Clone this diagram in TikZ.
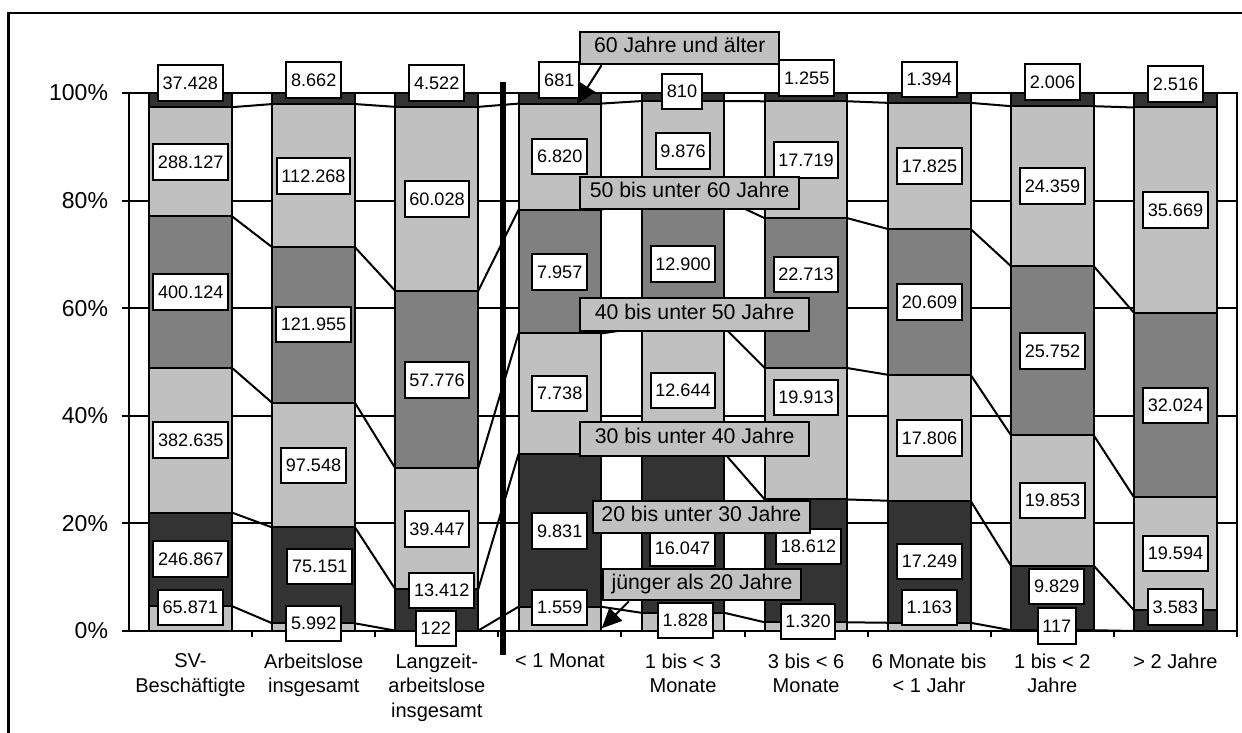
\documentclass[tikz,border=0pt]{standalone}
\usepackage{fontspec}
\setmainfont{Liberation Sans}
\usetikzlibrary{arrows.meta, calc}
\definecolor{lightbar}{HTML}{C0C0C0}
\definecolor{midbar}{HTML}{808080}
\definecolor{darkbar}{HTML}{333333}
\tikzset{
  vlabel/.style={rectangle, draw, fill=white, inner xsep=0.095cm, inner ysep=0pt,
    minimum height=0.71cm, font=\fontsize{10.3}{12}\selectfont},
  agelabel/.style={rectangle, draw, fill=lightbar, inner sep=0pt, minimum height=0.64cm,
    text height=0.73em, text depth=0.21em, font=\fontsize{12.1}{14}\selectfont},
  catlabel/.style={anchor=north, align=center, inner sep=0pt, font=\fontsize{11.4}{14.2}\selectfont},
  pctlabel/.style={anchor=east, inner sep=0pt, font=\fontsize{13.1}{15}\selectfont},
  pointer/.style={-{Triangle[length=0.4cm, width=0.36cm]}}
}
\begin{document}
\begin{tikzpicture}[x=0.02cm, y=-0.02cm, line width=0.04cm]
		\useasboundingbox (0,0) rectangle (1242,733);
		\clip (0,0) rectangle (1242,733);
		\draw[line width=0.05cm] (8.7,12.8) rectangle (1300,800);
		% gridlines
		\foreach \p in {20,40,60,80}
			\draw (129,{631-5.38*\p}) -- (1237,{631-5.38*\p});
		% stacked bars, cumulative percent per category
		\foreach \i/\a/\b/\c/\d/\e in {1/4.635/22.008/48.934/77.091/97.366,
				2/1.421/19.248/42.386/71.315/97.945, 3/0.070/7.720/30.222/63.179/97.421,
				4/4.508/32.932/55.306/78.312/98.031, 5/3.379/33.038/56.407/80.250/98.503,
				6/1.619/24.447/48.870/76.728/98.461, 7/1.529/24.212/47.626/74.727/98.167,
				8/0.143/12.142/36.377/67.815/97.551, 9/0/3.837/24.819/59.111/97.306} {
			\pgfmathsetmacro\xl{129+(\i-0.5)*123.11-41.35}
			\pgfmathsetmacro\xr{\xl+82.7}
			\filldraw[fill=lightbar] (\xl,631) rectangle (\xr,{631-5.38*\a});
			\filldraw[fill=darkbar] (\xl,{631-5.38*\a}) rectangle (\xr,{631-5.38*\b});
			\filldraw[fill=lightbar] (\xl,{631-5.38*\b}) rectangle (\xr,{631-5.38*\c});
			\filldraw[fill=midbar] (\xl,{631-5.38*\c}) rectangle (\xr,{631-5.38*\d});
			\filldraw[fill=lightbar] (\xl,{631-5.38*\d}) rectangle (\xr,{631-5.38*\e});
			\filldraw[fill=darkbar] (\xl,{631-5.38*\e}) rectangle (\xr,93);
			\foreach \j/\p in {1/\a,2/\b,3/\c,4/\d,5/\e} {
				\coordinate (b\i-l\j) at (\xl,{631-5.38*\p});
				\coordinate (b\i-r\j) at (\xr,{631-5.38*\p});
			}
		}
		% series lines
		\foreach \i in {1,...,8} {
			\pgfmathtruncatemacro\k{\i+1}
			\foreach \j in {1,...,5}
				\draw (b\i-r\j) -- (b\k-l\j);
		}
		% axes
		\draw (129,93) -- (1237,93) -- (1237,631);
		\draw (129,93) -- (129,631) -- (1237,631);
		\foreach \p in {0,20,...,100} {
			\draw (121.7,{631-5.38*\p}) -- (129,{631-5.38*\p});
			\node at (109,{631-5.38*\p}) [pctlabel] (pct\p) {\p\%};
		}
		\foreach \k in {1,...,9}
			\draw ({129+123.11*\k},631) -- ({129+123.11*\k},637);
		\draw[line width=0.12cm] (502.5,82.3) -- (502.5,655);
		% value labels
		\node at (190.3,83) [vlabel] (c1s6) {37.428};
		\node at (190.7,162) [vlabel] (c1s5) {288.127};
		\node at (190.8,292) [vlabel] (c1s4) {400.124};
		\node at (190.8,439.8) [vlabel] (c1s3) {382.635};
		\node at (190.8,559.2) [vlabel] (c1s2) {246.867};
		\node at (190.3,607.5) [vlabel] (c1s1) {65.871};
		\node at (313.7,80) [vlabel] (c2s6) {8.662};
		\node at (313.5,175.8) [vlabel] (c2s5) {112.268};
		\node at (313.5,324.7) [vlabel] (c2s4) {121.955};
		\node at (313.5,465.5) [vlabel] (c2s3) {97.548};
		\node at (319.8,566.7) [vlabel] (c2s2) {75.151};
		\node at (313.7,623.5) [vlabel] (c2s1) {5.992};
		\node at (436.7,82.8) [vlabel] (c3s6) {4.522};
		\node at (437,199) [vlabel] (c3s5) {60.028};
		\node at (437,380) [vlabel] (c3s4) {57.776};
		\node at (437,529) [vlabel] (c3s3) {39.447};
		\node at (441.7,590.5) [vlabel] (c3s2) {13.412};
		\node at (435.8,628.3) [vlabel] (c3s1) {122};
		\node at (559.3,80) [vlabel] (c4s6) {681};
		\node at (559.7,156.7) [vlabel] (c4s5) {6.820};
		\node at (559.7,271.8) [vlabel] (c4s4) {7.957};
		\node at (559.7,393.5) [vlabel] (c4s3) {7.738};
		\node at (559.7,530.8) [vlabel] (c4s2) {9.831};
		\node at (559.7,607.5) [vlabel] (c4s1) {1.559};
		\node at (682,91.7) [vlabel] (c5s6) {810};
		\node at (683,150.8) [vlabel] (c5s5) {9.876};
		\node at (683,263.8) [vlabel] (c5s4) {12.900};
		\node at (683,390.5) [vlabel] (c5s3) {12.644};
		\node at (682.5,548.6) [vlabel] (c5s2) {16.047};
		\node at (685.3,620.3) [vlabel] (c5s1) {1.828};
		\node at (806.7,78) [vlabel] (c6s6) {1.255};
		\node at (806,160) [vlabel] (c6s5) {17.719};
		\node at (806,274.7) [vlabel] (c6s4) {22.713};
		\node at (806,397.5) [vlabel] (c6s3) {19.913};
		\node at (808.5,546.3) [vlabel] (c6s2) {18.612};
		\node at (808,621.7) [vlabel] (c6s1) {1.320};
		\node at (929.2,79.3) [vlabel] (c7s6) {1.394};
		\node at (929.5,165.8) [vlabel] (c7s5) {17.825};
		\node at (929.5,301.8) [vlabel] (c7s4) {20.609};
		\node at (929.5,437.8) [vlabel] (c7s3) {17.806};
		\node at (929.5,561.7) [vlabel] (c7s2) {17.249};
		\node at (929.2,607.5) [vlabel] (c7s1) {1.163};
		\node at (1052.5,81.8) [vlabel] (c8s6) {2.006};
		\node at (1052.5,186.2) [vlabel] (c8s5) {24.359};
		\node at (1052.5,350.8) [vlabel] (c8s4) {25.752};
		\node at (1052.5,500.3) [vlabel] (c8s3) {19.853};
		\node at (1056.7,586.5) [vlabel] (c8s2) {9.829};
		\node at (1056.7,625.8) [vlabel] (c8s1) {117};
		\node at (1175.5,84.2) [vlabel] (c9s6) {2.516};
		\node at (1175.5,210.2) [vlabel] (c9s5) {35.669};
		\node at (1175.5,405.5) [vlabel] (c9s4) {32.024};
		\node at (1175.5,553.7) [vlabel] (c9s3) {19.594};
		\node at (1175.3,606.8) [vlabel] (c9s2) {3.583};
		% age group labels
		\node at (679.7,48.3) [agelabel, minimum width=3.97cm] (age60) {60 Jahre und älter};
		\node at (689.7,192.8) [agelabel, minimum width=4.37cm] (age50) {50 bis unter 60 Jahre};
		\node at (694.7,314.5) [agelabel, minimum width=4.57cm, minimum height=0.67cm] (age40) {40 bis unter 50 Jahre};
		\node at (694.7,439.2) [agelabel, minimum width=4.57cm, minimum height=0.68cm] (age30) {30 bis unter 40 Jahre};
		\node at (701.3,517) [agelabel, minimum width=4.35cm] (age20) {20 bis unter 30 Jahre};
		\node at (702,584.5) [agelabel, minimum width=3.95cm] (age0) {jünger als 20 Jahre};
		\coordinate (tip60) at (577,104);
		\coordinate (tip0) at (601.7,628.3);
		\draw[pointer] ($(age60.south west)!0.11!(age60.south east)$) -- (tip60);
		\draw[pointer] ($(age0.south west)!0.133!(age0.south east)$) -- (tip0);
		% category labels
		\node at (190.5,652.5) [catlabel] (cat1) {SV-\\Beschäftigte};
		\node at (313.7,652.5) [catlabel] (cat2) {Arbeitslose\\insgesamt};
		\node at (436.8,652.5) [catlabel] (cat3) {Langzeit-\\arbeitslose\\insgesamt};
		\node at (559.9,652.5) [catlabel] (cat4) {< 1 Monat};
		\node at (683,652.5) [catlabel] (cat5) {1 bis < 3\\Monate};
		\node at (806.1,652.5) [catlabel] (cat6) {3 bis < 6\\Monate};
		\node at (929.2,652.5) [catlabel] (cat7) {6 Monate bis\\< 1 Jahr};
		\node at (1052.3,652.5) [catlabel] (cat8) {1 bis < 2\\Jahre};
		\node at (1175.4,652.5) [catlabel] (cat9) {> 2 Jahre};
\end{tikzpicture}
\end{document}
